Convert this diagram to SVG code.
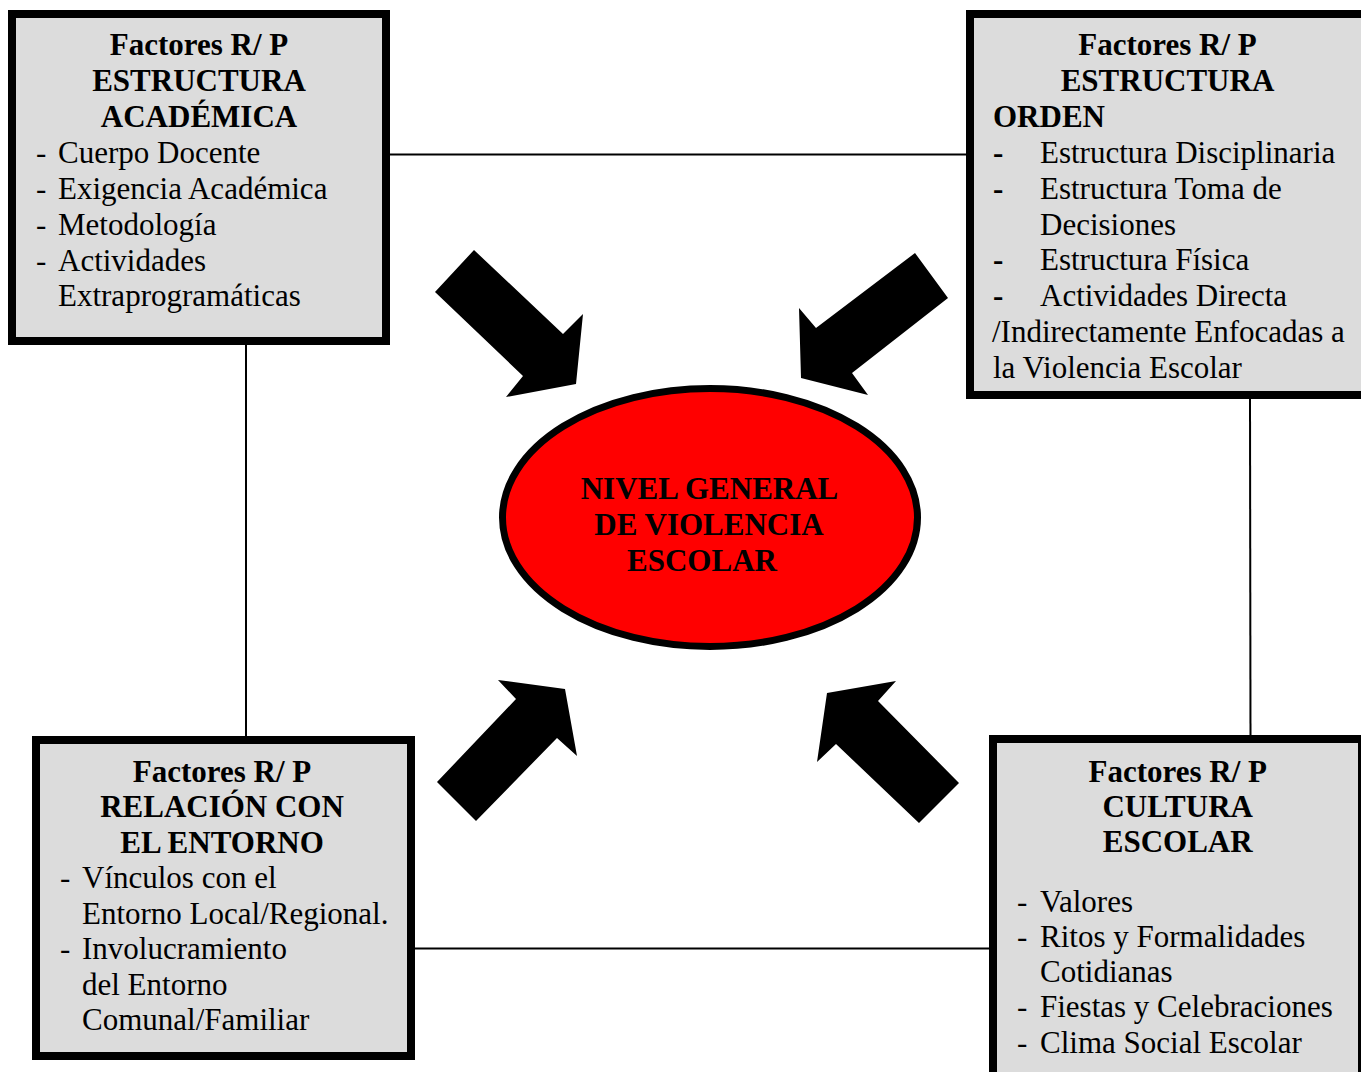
<svg xmlns="http://www.w3.org/2000/svg" width="1361" height="1072" viewBox="0 0 1361 1072">
<style>
.box{fill:#DCDCDC;stroke:#000;stroke-width:8}
.h{font-family:"Liberation Serif","Times New Roman",serif;font-size:31px;font-weight:bold;fill:#000;text-anchor:middle}
.hl{font-family:"Liberation Serif","Times New Roman",serif;font-size:31px;font-weight:bold;fill:#000}
.t{font-family:"Liberation Serif","Times New Roman",serif;font-size:31px;fill:#000}
.db{font-family:"Liberation Serif","Times New Roman",serif;font-size:31px;font-weight:bold;fill:#000}
.ln{stroke:#000;stroke-width:2;fill:none}
.arr{fill:#000}
.ell{fill:#FF0000;stroke:#000;stroke-width:7}
</style>
<rect width="1361" height="1072" fill="#fff"/>
<g id="connectors">
  <line class="ln" x1="390" y1="154.5" x2="966" y2="154.5"/>
  <line class="ln" x1="246" y1="345" x2="246" y2="736"/>
  <line class="ln" x1="1250" y1="399" x2="1250.5" y2="735"/>
  <line class="ln" x1="415" y1="948.5" x2="989" y2="948.5"/>
  <g id="arrows">
    <polygon class="arr" points="474,250 563,334 583,314 576,384 506,397 523,376 435,292"/>
    <polygon class="arr" points="915,253 948,298 852,373 868,395 801,378 799,308 816,328"/>
    <polygon class="arr" points="498,680 565,689 577,756 557,738 476,821 437,782 516,699"/>
    <polygon class="arr" points="896,681 878,701 959,783 919,823 836,744 817,762 827,693"/>
  </g>
</g>
<g id="node-academica">
  <rect class="box" x="12" y="14" width="374" height="327"/>
  <text class="h" x="199" y="55">Factores R/ P</text>
  <text class="h" x="199" y="91">ESTRUCTURA</text>
  <text class="h" x="199" y="127">ACADÉMICA</text>
  <text class="t" x="36" y="163">-</text><text class="t" x="58" y="163">Cuerpo Docente</text>
  <text class="t" x="36" y="199">-</text><text class="t" x="58" y="199">Exigencia Académica</text>
  <text class="t" x="36" y="235">-</text><text class="t" x="58" y="235">Metodología</text>
  <text class="t" x="36" y="271">-</text><text class="t" x="58" y="271">Actividades</text>
  <text class="t" x="58" y="306">Extraprogramáticas</text>
</g>
<g id="node-orden">
  <rect class="box" x="970" y="14" width="395" height="381"/>
  <text class="h" x="1167.5" y="55">Factores R/ P</text>
  <text class="h" x="1167.5" y="91">ESTRUCTURA</text>
  <text class="hl" x="993" y="127">ORDEN</text>
  <text class="db" x="993" y="163">-</text><text class="t" x="1040" y="163">Estructura Disciplinaria</text>
  <text class="db" x="993" y="199">-</text><text class="t" x="1040" y="199">Estructura Toma de</text>
  <text class="t" x="1040" y="235">Decisiones</text>
  <text class="db" x="993" y="270">-</text><text class="t" x="1040" y="270">Estructura Física</text>
  <text class="db" x="993" y="306">-</text><text class="t" x="1040" y="306">Actividades Directa</text>
  <text class="t" x="992" y="342">/Indirectamente Enfocadas a</text>
  <text class="t" x="993" y="378">la Violencia Escolar</text>
</g>
<g id="node-entorno">
  <rect class="box" x="36" y="740" width="375" height="316"/>
  <text class="h" x="222" y="782">Factores R/ P</text>
  <text class="h" x="222" y="817">RELACIÓN CON</text>
  <text class="h" x="222" y="853">EL ENTORNO</text>
  <text class="t" x="60" y="888">-</text><text class="t" x="82" y="888">Vínculos con el</text>
  <text class="t" x="82" y="924">Entorno Local/Regional.</text>
  <text class="t" x="60" y="959">-</text><text class="t" x="82" y="959">Involucramiento</text>
  <text class="t" x="82" y="995">del Entorno</text>
  <text class="t" x="82" y="1030">Comunal/Familiar</text>
</g>
<g id="node-cultura">
  <rect class="box" x="993" y="739" width="369" height="345"/>
  <text class="h" x="1177.7" y="782">Factores R/ P</text>
  <text class="h" x="1177.7" y="817">CULTURA</text>
  <text class="h" x="1177.7" y="852">ESCOLAR</text>
  <text class="t" x="1017" y="912">-</text><text class="t" x="1040" y="912">Valores</text>
  <text class="t" x="1017" y="947">-</text><text class="t" x="1040" y="947">Ritos y Formalidades</text>
  <text class="t" x="1040" y="982">Cotidianas</text>
  <text class="t" x="1017" y="1017">-</text><text class="t" x="1040" y="1017">Fiestas y Celebraciones</text>
  <text class="t" x="1017" y="1053">-</text><text class="t" x="1040" y="1053">Clima Social Escolar</text>
</g>
<g id="node-center">
  <ellipse class="ell" cx="710" cy="517.5" rx="207.5" ry="129"/>
  <text class="h" x="709.5" y="499">NIVEL GENERAL</text>
  <text class="h" x="709" y="535">DE VIOLENCIA</text>
  <text class="h" x="702" y="571">ESCOLAR</text>
</g>
</svg>
